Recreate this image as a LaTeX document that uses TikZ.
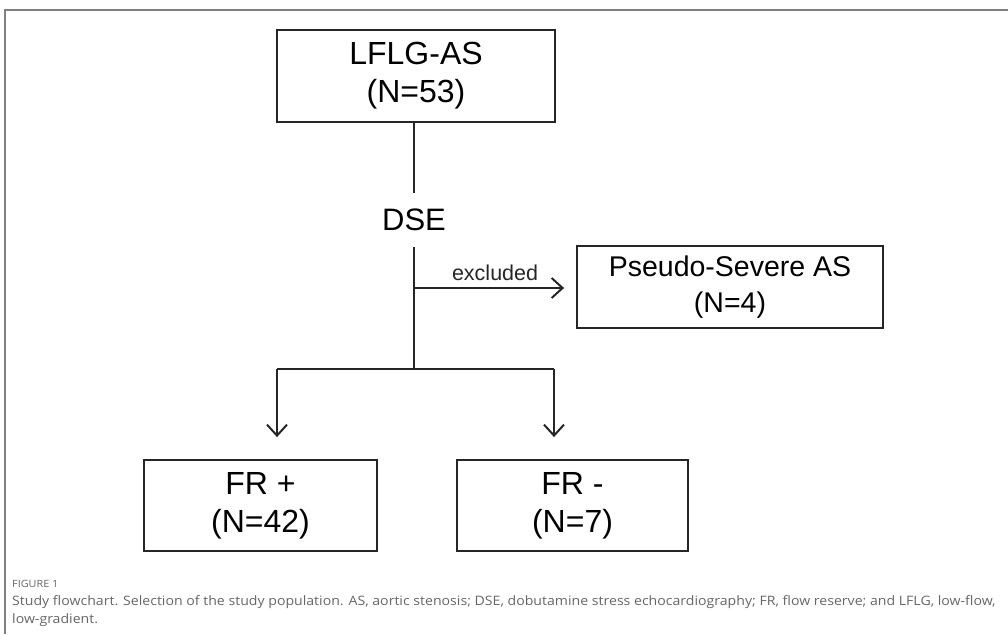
\documentclass[tikz,border=0pt]{standalone}
\usepackage{fontspec}
\setmainfont{Liberation Sans}
\newfontfamily\capfont[FakeStretch=1.085]{Open Sans}
\usetikzlibrary{arrows.meta,positioning}
\tikzset{
  flowbox/.style={draw=black!85,line width=1.8pt,align=center,inner sep=0pt},
  bigtext/.style={font=\fontsize{32}{38}\selectfont},
  flowline/.style={black!85,line width=2pt},
  flowarrow/.style={flowline,-{Straight Barb[length=11pt,width=20pt,line width=2pt]}},
  captext/.style={anchor=base west,inner sep=0pt,text=black!60,font=\capfont\fontsize{13}{15}\selectfont}
}

\begin{document}
\begin{tikzpicture}[x=1pt,y=-1pt]
  \useasboundingbox (0,0) rectangle (1008,634);
  \draw[black!50,line width=2.5pt] (1008,10) -- (5,10) -- (5,634);

  \node[flowbox,bigtext,minimum width=278pt,minimum height=92pt] (lflg) at (416,76) {LFLG-AS\\(N=53)};
  \node[font=\fontsize{31}{36}\selectfont,inner xsep=4pt,inner ysep=16pt] (dse) at (414,220) {DSE};
  \node[flowbox,font=\fontsize{28.5}{36}\selectfont,minimum width=306pt,minimum height=82pt] (pseudo) at (730,287) {Pseudo-Severe AS\\(N=4)};
  \node[flowbox,bigtext,minimum width=233pt,minimum height=91pt] (frp) at (260.5,505.5) {FR +\\(N=42)};
  \node[flowbox,bigtext,minimum width=231pt,minimum height=91pt] (frm) at (572.5,505.5) {FR -\\(N=7)};

  \coordinate (exc) at (414,288);
  \coordinate (split) at (414,369);
  \coordinate (bl) at (277,369);
  \coordinate (br) at (554,369);

  \draw[flowline] (lflg.south -| dse) -- (dse.north);
  \draw[flowline] (dse.south) -- (split);
  \draw[flowarrow,shorten >=12pt] (exc) -- (exc -| pseudo.west)
    node[midway,above=3pt,font=\fontsize{21.5}{24}\selectfont] (exclbl) {excluded};
  \draw[flowline] (bl) -- (br);
  \draw[flowarrow,shorten >=22pt] (bl) -- (bl |- frp.north);
  \draw[flowarrow,shorten >=22pt] (br) -- (br |- frm.north);

  \node[captext,font=\capfont\fontsize{10}{12}\selectfont] (figlbl) at (12,587) {FIGURE 1};
  \node[captext] (capa) at (12,605) {Study flowchart. Selection of the study population. AS, aortic stenosis; DSE, dobutamine stress echocardiography; FR, flow reserve; and LFLG, low-flow,};
  \node[captext] (capb) at (12,623) {low-gradient.};
\end{tikzpicture}
\end{document}
